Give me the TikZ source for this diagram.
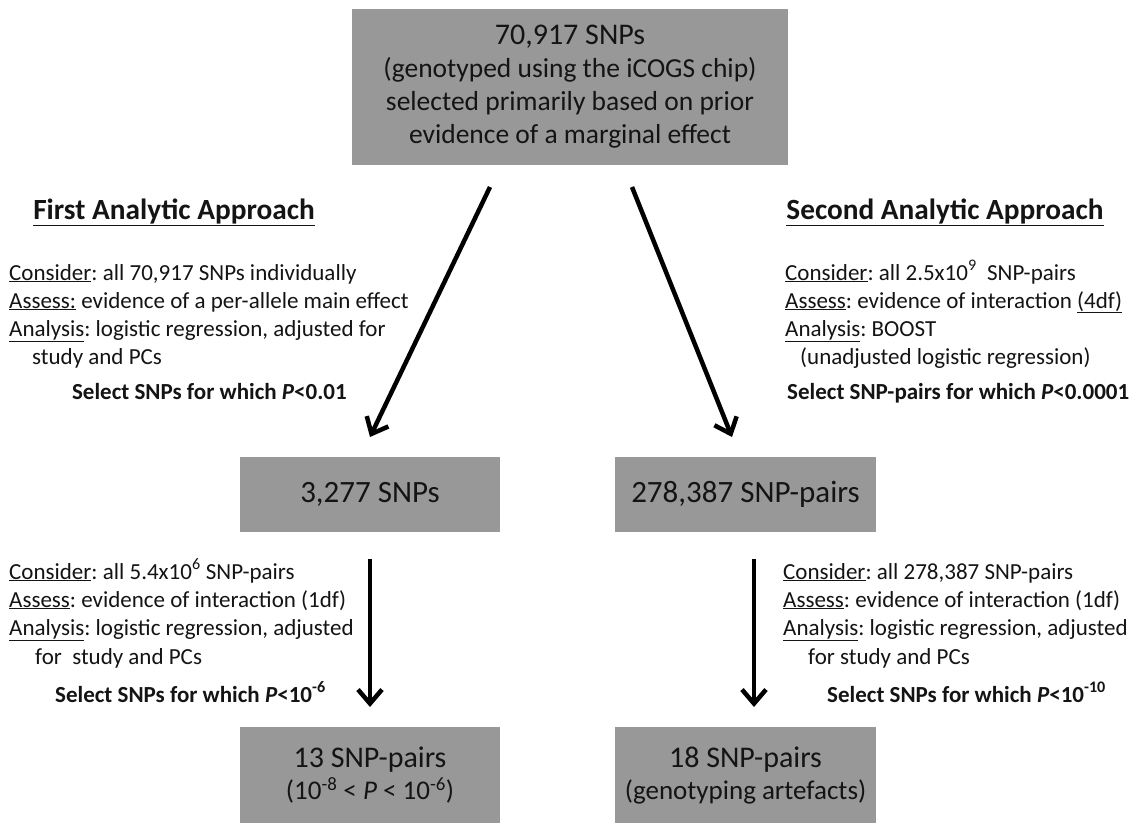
\documentclass[tikz,border=0pt]{standalone}
\usepackage{fontspec}
\setmainfont{Carlito}
\usetikzlibrary{arrows.meta}
\definecolor{boxgray}{RGB}{152,152,152}
\definecolor{txt}{RGB}{20,20,20}
\frenchspacing
\begin{document}
\begin{tikzpicture}[x=1pt,y=-1pt,
  box/.style={fill=boxgray, inner sep=0, align=center, text=txt},
  arr/.style={line width=4.5pt, -{Straight Barb[length=14pt,width=24pt,line width=4.5pt]}},
  line/.style={anchor=base west, inner sep=0, text=txt, font=\fontsize{23}{28}\selectfont},
  sel/.style={anchor=base west, inner sep=0, text=txt, font=\bfseries\fontsize{23}{26}\selectfont},
  head/.style={anchor=base, inner sep=0, text=txt, font=\bfseries\fontsize{29.3}{33}\selectfont},
  big/.style={font=\fontsize{31}{35}\selectfont}]
\useasboundingbox (0,0) rectangle (1131,823);
\fill[white] (0,0) rectangle (1131,823);

% top box
\node[box, minimum width=436pt, minimum height=156pt, font=\fontsize{27.5}{33}\selectfont] (top) at (570,87)
  {{\fontsize{30}{33}\selectfont 70,917 SNPs}\\(genotyped using the iCOGS chip)\\selected primarily based on prior\\evidence of a marginal effect};

% headings
\node[head] (h1) at (174,219) {\underline{First Analytic Approach}};
\node[head] (h2) at (945,219) {\underline{Second Analytic Approach}};

% first approach text
\node[line] (a1) at (9,280) {\underline{Consider}: all 70,917 SNPs individually};
\node[line] (a2) at (9,308) {\underline{Assess:} evidence of a per-allele main effect};
\node[line] (a3) at (9,336) {\underline{Analysis}: logistic regression, adjusted for};
\node[line] (a4) at (32,364) {study and PCs};
\node[sel, anchor=base east] (as) at (347,399) {Select SNPs for which \textit{P}<0.01};

% second approach text
\node[line] (b1) at (785,280) {\underline{Consider}: all 2.5x10\textsuperscript{9}\ \ SNP-pairs};
\node[line] (b2) at (785,308) {\underline{Assess}: evidence of interaction \underline{(4df)}};
\node[line] (b3) at (785,336) {\underline{Analysis}: BOOST};
\node[line] (b4) at (800,364) {(unadjusted logistic regression)};
\node[sel] (bs) at (787,399) {Select SNP-pairs for which \textit{P}<0.0001};

% middle boxes
\node[box, big, minimum width=260pt, minimum height=75pt] (m1) at (370,494.5) {3,277 SNPs};
\node[box, big, minimum width=261pt, minimum height=75pt] (m2) at (745.5,494.5) {278,387 SNP-pairs};

% lower text left
\node[line] (c1) at (9,579) {\underline{Consider}: all 5.4x10\textsuperscript{6} SNP-pairs};
\node[line] (c2) at (9,607) {\underline{Assess}: evidence of interaction (1df)};
\node[line] (c3) at (9,635) {\underline{Analysis}: logistic regression, adjusted};
\node[line] (c4) at (35,664) {for\ \ study and PCs};
\node[sel] (cs) at (55,702) {Select SNPs for which \textit{P}<10\textsuperscript{-6}};

% lower text right
\node[line] (d1) at (783,579) {\underline{Consider}: all 278,387 SNP-pairs};
\node[line] (d2) at (783,607) {\underline{Assess}: evidence of interaction (1df)};
\node[line] (d3) at (783,635) {\underline{Analysis}: logistic regression, adjusted};
\node[line] (d4) at (808,664) {for study and PCs};
\node[sel] (ds) at (827,702) {Select SNPs for which \textit{P}<10\textsuperscript{-10}};

% bottom boxes
\node[box, minimum width=260pt, minimum height=96pt, font=\fontsize{27}{32}\selectfont] (e1) at (370,775)
  {{\fontsize{30}{34}\selectfont 13 SNP-pairs}\\(10\textsuperscript{-8} < \textit{P} < 10\textsuperscript{-6})};
\node[box, minimum width=261pt, minimum height=96pt, font=\fontsize{27}{32}\selectfont] (e2) at (745.5,775)
  {{\fontsize{30}{34}\selectfont 18 SNP-pairs}\\(genotyping artefacts)};

% arrows
\coordinate (s1) at (490,187);
\coordinate (t1) at (370,437);
\coordinate (s2) at (632,187);
\coordinate (t2) at (732,437);
\coordinate (s3) at (370,559);
\coordinate (t3) at (370,707);
\coordinate (s4) at (754,559);
\coordinate (t4) at (754,707);
\draw[arr] (s1) -- (t1);
\draw[arr] (s2) -- (t2);
\draw[arr] (s3) -- (t3);
\draw[arr] (s4) -- (t4);
\end{tikzpicture}
\end{document}
